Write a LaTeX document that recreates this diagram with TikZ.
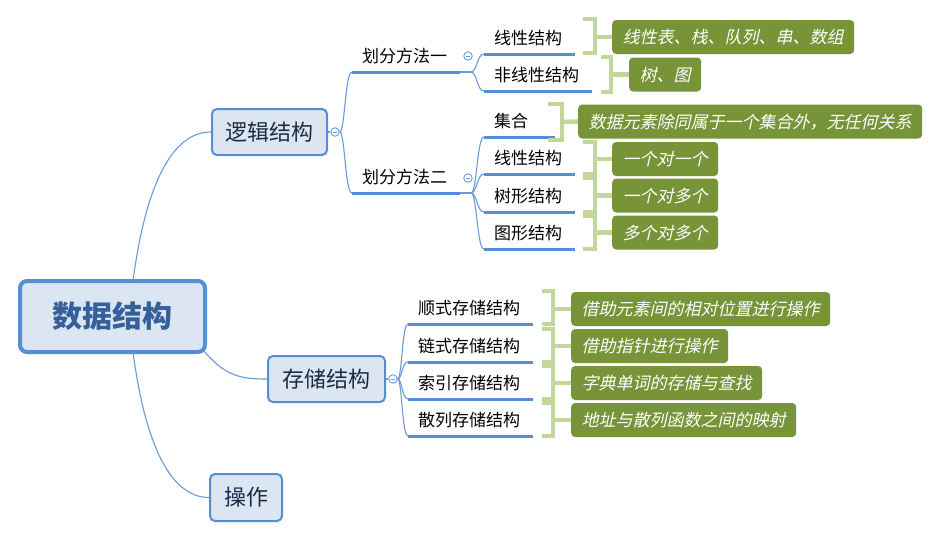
\documentclass[tikz,border=0pt]{standalone}
\usepackage{fontspec}
\setmainfont{Noto Sans CJK SC}
\newfontfamily\gfont[FakeSlant=0.22]{Noto Sans CJK SC}
\definecolor{connblue}{HTML}{6A9AD8}
\definecolor{ulblue}{HTML}{558ED5}
\definecolor{boxfill}{HTML}{DCE6F2}
\definecolor{navy}{HTML}{1C2B45}
\definecolor{roottext}{HTML}{35609A}
\definecolor{ogreen}{HTML}{779438}
\definecolor{bgreen}{HTML}{C4D79B}
\tikzset{
  conn/.style={draw=connblue, line width=1.1pt},
  uline/.style={draw=ulblue, line width=3pt},
  topic/.style={draw=ulblue, fill=boxfill, line width=2pt, rounded corners=5pt,
    font=\fontsize{22}{24}\selectfont, text=navy, inner sep=0pt},
  rootbox/.style={draw=ulblue, fill=boxfill, line width=4pt, rounded corners=7pt,
    font=\fontsize{30}{32}\selectfont\bfseries, text=roottext,
    minimum width=185pt, minimum height=71pt, inner sep=0pt},
  item/.style={anchor=south west, inner xsep=10pt, inner ysep=0pt, minimum height=32pt,
    text width=#1, align=left, text height=13pt, text depth=0pt,
    font=\fontsize{17}{20}\selectfont,
    append after command={(\tikzlastnode.south west) edge[uline] (\tikzlastnode.south east)}},
  cbtn/.style={circle, draw=connblue, fill=white, line width=0.9pt, minimum size=8.5pt,
    inner sep=0pt, path picture={\draw[connblue, line width=0.8pt]
      ([xshift=-2.3pt]path picture bounding box.center) -- ([xshift=2.3pt]path picture bounding box.center);}},
  gbox/.style={fill=ogreen, rounded corners=4pt, text=white,
    font=\gfont\fontsize{17}{20}\selectfont, inner xsep=10.5pt, inner ysep=0pt,
    minimum height=34pt, anchor=west, text height=13pt, text depth=0pt},
  brk/.style={draw=bgreen, line width=4.5pt}
}
\begin{document}
\begin{tikzpicture}[x=1pt,y=-1pt]
\fill[white] (0,0) rectangle (938,539);
\useasboundingbox (0,0) rectangle (938,539);

% main topics
\node[rootbox] (root) at (112.5,316.5) {数据结构};
\node[topic, minimum width=115pt, minimum height=46pt] (lj) at (269.5,132) {逻辑结构};
\node[topic, minimum width=117pt, minimum height=46pt] (cc) at (326.5,379) {存储结构};
\node[topic, minimum width=72pt, minimum height=47pt] (cz) at (246,497.5) {操作};

\coordinate (rT) at (133,281);
\coordinate (rB) at (133,352);
\coordinate (rR) at (203,350);
\draw[conn] (rT) .. controls (145,190) and (170,132) .. (lj.west);
\draw[conn] (rB) .. controls (145,443) and (170,497.5) .. (cz.west);
\draw[conn] (rR) .. controls (225,376) and (240,379) .. (cc.west);

% collapse buttons
\node[cbtn] (c1) at (335,132) {};
\node[cbtn] (c2) at (468,56) {};
\node[cbtn] (c3) at (468,178) {};
\node[cbtn] (c4) at (393,379) {};
\draw[conn] (lj.east) -- (c1.west);
\draw[conn] (cc.east) -- (c4.west);

% level 2
\node[item=88pt] (m1) at (352,72) {划分方法一};
\node[item=88pt] (m2) at (352,193) {划分方法二};
\draw[conn] (c1.east) .. controls (345,132) and (345,72) .. (m1.south west);
\draw[conn] (c1.east) .. controls (345,132) and (345,193) .. (m2.south west);

% level 3 under 划分方法一
\coordinate (j1) at (471,72);
\draw[conn] (m1.south east) -- (j1);
\node[item=71pt] (a1) at (484,54) {线性结构};
\node[item=88pt] (a2) at (484,91) {非线性结构};
\draw[conn] (j1) .. controls (477,72) and (477,54) .. (a1.south west);
\draw[conn] (j1) .. controls (477,72) and (477,91) .. (a2.south west);

% level 3 under 划分方法二
\coordinate (j2) at (471,193);
\draw[conn] (m2.south east) -- (j2);
\node[item=51pt] (b1) at (484,137) {集合};
\node[item=71pt] (b2) at (484,174) {线性结构};
\node[item=71pt] (b3) at (484,212) {树形结构};
\node[item=71pt] (b4) at (484,249) {图形结构};
\foreach \n/\y in {b1/137,b2/174,b3/212,b4/249}
  \draw[conn] (j2) .. controls (477,193) and (477,\y) .. (\n.south west);

% storage children
\node[item=105pt] (s1) at (408,324) {顺式存储结构};
\node[item=105pt] (s2) at (408,362) {链式存储结构};
\node[item=105pt] (s3) at (408,399) {索引存储结构};
\node[item=105pt] (s4) at (408,436) {散列存储结构};
\foreach \n/\y in {s1/324,s2/362,s3/399,s4/436}
  \draw[conn] (c4.east) .. controls (402,379) and (402,\y) .. (\n.south west);

% green notes
\node[gbox] (g1) at (612,37) {线性表、栈、队列、串、数组};
\node[gbox] (g2) at (629,74.5) {树、图};
\node[gbox] (g3) at (578,121.5) {数据元素除同属于一个集合外，无任何关系};
\node[gbox] (g4) at (612,159) {一个对一个};
\node[gbox] (g5) at (612,195.5) {一个对多个};
\node[gbox] (g6) at (612,232.5) {多个对多个};
\node[gbox] (h1) at (571,309) {借助元素间的相对位置进行操作};
\node[gbox] (h2) at (571,346) {借助指针进行操作};
\node[gbox] (h3) at (571,383) {字典单词的存储与查找};
\node[gbox] (h4) at (571,420) {地址与散列函数之间的映射};

% brackets
\draw[brk] (583,19) -- (595,19) -- (595,53) -- (583,53);
\draw[brk] (595,37) -- (g1.west);
\draw[brk] (601,57) -- (611,57) -- (611,92) -- (601,92);
\draw[brk] (611,74.5) -- (g2.west);
\draw[brk] (548,104) -- (562,104) -- (562,140) -- (548,140);
\draw[brk] (562,122) -- (g3.west);
\foreach \t/\b/\m/\g in {142/174/159/g4,178/212/195.5/g5,216/249/232.5/g6}{
  \draw[brk] (583,\t) -- (595,\t) -- (595,\b) -- (583,\b);
  \draw[brk] (595,\m) -- (\g.west);
}
\foreach \t/\b/\m/\g in {291/324/309/h1,329/362/346/h2,366/399/383/h3,403/436/420/h4}{
  \draw[brk] (542,\t) -- (553,\t) -- (553,\b) -- (542,\b);
  \draw[brk] (553,\m) -- (\g.west);
}
\end{tikzpicture}
\end{document}
